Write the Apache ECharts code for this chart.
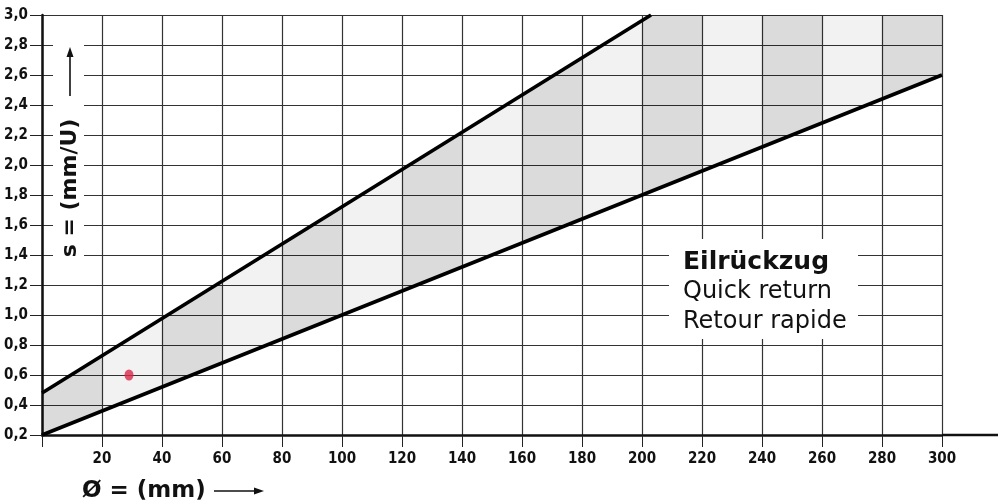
<!DOCTYPE html>
<html><head><meta charset="utf-8">
<script src="https://cdn.jsdelivr.net/npm/echarts@6/dist/echarts.min.js"></script>
<style>html,body{margin:0;padding:0;background:#fff}#c{width:998px;height:504px}</style>
</head><body><div id="c"></div>
<script>
// ---- data ----
const xMin = 0, xMax = 300, xStep = 20;
const yMin = 0.2, yMax = 3.0, yStep = 0.2;
const upperLine = [[0, 0.48], [203, 3.0]];
const lowerLine = [[0, 0.2], [300, 2.6]];
const markerPoint = [[29, 0.6]];
const columnStarts = [0, 20, 40, 60, 80, 100, 120, 140, 160, 180, 200, 220, 240, 260, 280];
const columnShade = ['dark','light','dark','light','dark','light','dark','light','dark','light','dark','light','dark','light','dark'];
const legendLines = ['Eilrückzug', 'Quick return', 'Retour rapide'];
const yTitle = 's = (mm/U)';
const xTitle = 'Ø = (mm)';

// ---- band polygon (between the two lines, capped at axis max) ----
const band = [lowerLine[0], upperLine[0], upperLine[1], [xMax, yMax], lowerLine[1]];
function clipX(poly, a, keepGreater) {
  const out = [];
  const inside = p => keepGreater ? p[0] >= a : p[0] <= a;
  for (let i = 0; i < poly.length; i++) {
    const p = poly[i], q = poly[(i + 1) % poly.length];
    const pi = inside(p), qi = inside(q);
    if (pi) out.push(p);
    if (pi !== qi) {
      const t = (a - p[0]) / (q[0] - p[0]);
      out.push([a, p[1] + t * (q[1] - p[1])]);
    }
  }
  return out;
}
const condFont = "'Liberation Sans Narrow', 'DejaVu Sans Condensed', 'Roboto Condensed', 'Liberation Sans', sans-serif";

const chart = echarts.init(document.getElementById('c'), null, {renderer: 'canvas'});
chart.setOption({
  animation: false,
  backgroundColor: '#fff',
  grid: {left: 42, right: 56, top: 15, bottom: 69, containLabel: false},
  xAxis: {
    type: 'value', min: xMin, max: xMax, interval: xStep,
    axisLine: {show: true, onZero: false, lineStyle: {color: '#111', width: 2.5}},
    axisTick: {show: true, length: 12, lineStyle: {color: '#222', width: 1}},
    axisLabel: {show: true, showMinLabel: true, showMaxLabel: true, margin: 17,
      formatter: v => v === 0 ? '' : String(v),
      fontFamily: condFont, fontWeight: 'bold', fontSize: 15, color: '#111'},
    splitLine: {show: true, lineStyle: {color: '#333', width: 1.2}}
  },
  yAxis: {
    type: 'value', min: yMin, max: yMax, interval: yStep,
    axisLine: {show: true, onZero: false, lineStyle: {color: '#111', width: 2.5}},
    axisTick: {show: true, length: 12, lineStyle: {color: '#222', width: 1}},
    axisLabel: {show: true, showMinLabel: true, showMaxLabel: true, margin: 14,
      formatter: v => v.toFixed(1).replace('.', ','),
      fontFamily: condFont, fontWeight: 'bold', fontSize: 15, color: '#111'},
    splitLine: {show: true, lineStyle: {color: '#333', width: 1.2}}
  },
  series: [
    {
      type: 'custom', z: 1,
      encode: {x: [0, 1], y: 2},
      data: columnStarts.map((s, i) => [s, s + xStep, columnShade[i] === 'dark' ? 1 : 0]),
      renderItem: function (params, api) {
        const x0 = api.value(0), x1 = api.value(1), dark = api.value(2);
        let poly = clipX(band, x0, true);
        poly = clipX(poly, x1, false);
        if (poly.length < 3) return null;
        return {
          type: 'polygon',
          shape: {points: poly.map(p => api.coord(p))},
          style: {fill: dark ? 'rgba(0,0,0,0.14)' : 'rgba(0,0,0,0.05)', stroke: null}
        };
      }
    },
    {type: 'line', z: 3, data: upperLine, symbol: 'none', lineStyle: {color: '#000', width: 3.6}},
    {type: 'line', z: 3, data: lowerLine, symbol: 'none', lineStyle: {color: '#000', width: 3.6}},
    {type: 'scatter', z: 4, data: markerPoint, symbol: 'circle', symbolSize: [9, 11],
      itemStyle: {color: '#d92848'}}
  ],
  graphic: [
    // extension of x axis line to the right edge
    {type: 'line', z: 10, shape: {x1: 942, y1: 435, x2: 998, y2: 435}, style: {stroke: '#111', lineWidth: 2.5}},
    // y title background
    {type: 'rect', z: 10, shape: {x: 53, y: 42, width: 31, height: 224}, style: {fill: '#fff'}},
    {type: 'text', z: 11, x: 70, y: 188, rotation: Math.PI / 2,
      style: {text: yTitle, fill: '#111', font: "bold 22px 'DejaVu Sans', sans-serif", textAlign: 'center', textVerticalAlign: 'middle'}},
    {type: 'line', z: 11, shape: {x1: 70, y1: 96, x2: 70, y2: 54}, style: {stroke: '#111', lineWidth: 1.6}},
    {type: 'polygon', z: 11, shape: {points: [[70, 47], [66.5, 57], [73.5, 57]]}, style: {fill: '#111'}},
    // x title
    {type: 'text', z: 11, x: 82, y: 491,
      style: {text: xTitle, fill: '#111', font: "bold 23px 'DejaVu Sans', sans-serif", textAlign: 'left', textVerticalAlign: 'middle'}},
    {type: 'line', z: 11, shape: {x1: 214, y1: 491, x2: 257, y2: 491}, style: {stroke: '#111', lineWidth: 1.6}},
    {type: 'polygon', z: 11, shape: {points: [[264, 491], [254, 487.5], [254, 494.5]]}, style: {fill: '#111'}},
    // legend box
    {type: 'rect', z: 10, shape: {x: 669, y: 239, width: 189, height: 100}, style: {fill: '#fff'}},
    {type: 'text', z: 11, x: 683, y: 262,
      style: {text: legendLines[0], fill: '#111', font: "bold 25px 'DejaVu Sans', sans-serif", textAlign: 'left', textVerticalAlign: 'middle'}},
    {type: 'text', z: 11, x: 683, y: 292,
      style: {text: legendLines[1], fill: '#111', font: "24px 'DejaVu Sans', sans-serif", textAlign: 'left', textVerticalAlign: 'middle'}},
    {type: 'text', z: 11, x: 683, y: 322,
      style: {text: legendLines[2], fill: '#111', font: "24px 'DejaVu Sans', sans-serif", textAlign: 'left', textVerticalAlign: 'middle'}}
  ]
});
</script></body></html>
